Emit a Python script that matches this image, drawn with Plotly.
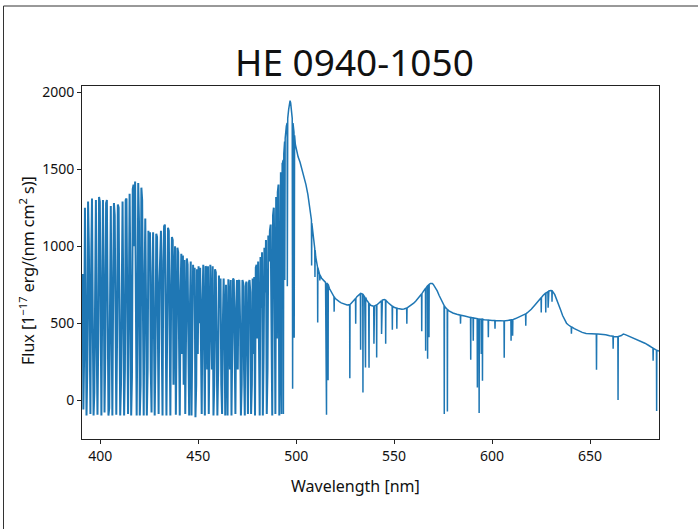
import numpy as np
import plotly.graph_objects as go

# ---------------- data ----------------
# Lyman-alpha forest part: regular 0.4 nm sampling from 391.0 nm
FOREST_START = 391.0
FOREST_STEP = 0.4
forest_flux = [
    820, -60, 300, 1250, 600, -100, 200, 1290, 1000, 150,
    -90, 900, 1310, 500, -100, 50, 1100, 1300, 350, -95,
    400, 1320, 1290, 100, -100, 600, 1300, 800, -80, 300,
    1280, 1300, 250, -100, -50, 900, 1260, 500, -100, 700,
    1280, 1200, 150, -95, 400, 1270, 1250, 300, -100, 100,
    1000, 1290, 600, -100, 200, 1300, 1310, 400, -90, 600,
    1340, 800, -100, 150, 1370, 1400, 1000, 1420, 300, -100,
    500, 1410, 1150, -100, 100, 1380, 1300, 400, -100, 700,
    1180, 600, -100, 200, 1100, 950, 1090, 200, -80, 800,
    1090, 500, -100, 300, 1080, 1060, 100, -90, 750, 1070,
    1100, 400, -100, 900, 1130, 1140, 300, -100, 500, 1120,
    1100, 200, -100, 700, 1060, 1040, 100, 800, 1000, -95,
    400, 990, 960, 200, -100, 700, 950, 300, 940, 100,
    910, -90, 300, 920, 880, 200, -100, 600, 900, -100,
    400, 880, 700, 860, -110, 100, 850, 300, 870, 500,
    860, 100, -90, 650, 880, 400, -100, 870, 860, 200,
    870, -90, 300, 880, 600, 200, 870, -100, 100, 850,
    830, 450, -100, 200, 810, 600, 790, 100, -90, 500,
    790, 500, -100, 750, 300, -100, 785, 650, 200, 780,
    -100, 400, 790, 780, 100, -90, 600, 780, 200, 770,
    780, 500, -100, 100, 780, 760, 200, -100, 740, 770,
    300, -90, 760, 780, 700, -90, 100, 790, 300, 800,
    -100, 860, 880, 400, 900, 100, -100, 930, 600, 960,
    -100, 300, 990, 700, 1040, -90, 200, 1070, 900, 1100,
    1140, 500, -100, 1200, 1250, 800, -90, 1320, 400, 1350,
    1400, -100, 300, 1480, -90, 1540,
]

# Red part (Ly-alpha emission and beyond): explicit samples
red_wl = [
    493.4, 493.5, 493.7, 494.1, 494.2, 494.4, 495.0, 495.4, 495.5, 495.7,
    496.2, 496.6, 496.9, 497.2, 497.6, 498.0, 498.2, 498.4, 498.9, 499.0,
    499.2, 499.6, 500.0, 500.5, 501.0, 502.0, 503.0, 504.0, 505.0, 506.0,
    507.0, 507.8, 507.9, 508.0, 509.0, 509.5, 509.6, 509.7, 510.0, 510.9,
    511.0, 511.1, 512.0, 512.1, 512.2, 513.0, 514.0, 515.0, 515.5, 515.6,
    516.2, 516.3, 516.4, 517.0, 518.0, 519.3, 519.4, 519.5, 520.0, 521.0,
    522.0, 523.0, 524.0, 525.0, 526.0, 527.3, 527.4, 527.5, 528.0, 529.0,
    530.3, 530.4, 530.5, 531.0, 532.0, 532.8, 532.9, 533.0, 533.5, 534.0,
    534.1, 534.2, 535.0, 535.4, 535.5, 536.0, 537.0, 537.2, 537.3, 538.0,
    539.0, 539.6, 539.7, 539.8, 540.0, 541.0, 541.1, 541.2, 542.0, 543.0,
    543.5, 543.6, 543.7, 544.0, 545.0, 545.6, 545.7, 545.8, 546.0, 547.0,
    548.0, 549.0, 549.1, 549.2, 550.0, 551.0, 551.3, 551.4, 551.5, 552.0,
    553.0, 554.0, 555.0, 556.0, 556.4, 556.5, 556.6, 557.0, 558.0, 559.0,
    560.0, 561.0, 562.0, 563.0, 564.0, 564.1, 564.2, 565.0, 566.0, 566.1,
    566.2, 567.0, 567.1, 567.2, 567.7, 567.8, 567.9, 568.5, 569.0, 569.5,
    570.0, 571.0, 572.0, 573.0, 574.0, 575.0, 575.5, 575.6, 575.7, 576.0,
    577.1, 577.2, 577.3, 578.0, 579.0, 580.0, 582.0, 583.8, 583.9, 584.0,
    586.0, 588.0, 589.0, 589.1, 589.2, 590.3, 590.4, 590.5, 592.0, 592.4,
    592.5, 592.6, 593.3, 593.4, 593.5, 594.4, 594.5, 594.6, 595.0, 595.1,
    595.2, 596.0, 598.0, 598.1, 598.2, 600.0, 601.4, 601.5, 601.6, 604.0,
    606.1, 606.2, 606.3, 608.0, 609.6, 609.7, 609.8, 610.4, 610.5, 610.6,
    612.0, 614.0, 616.0, 617.1, 617.2, 617.3, 618.0, 620.0, 622.0, 624.0,
    625.0, 625.1, 625.2, 626.0, 627.3, 627.4, 627.5, 628.0, 628.5, 628.6,
    628.7, 629.0, 630.0, 630.5, 630.6, 630.7, 631.0, 632.0, 633.0, 634.0,
    635.0, 636.0, 637.0, 638.0, 639.0, 640.0, 640.4, 640.5, 640.6, 642.0,
    644.0, 646.0, 648.0, 650.0, 652.0, 653.2, 653.3, 653.4, 654.0, 656.0,
    658.0, 660.0, 661.7, 661.8, 661.9, 662.0, 664.2, 664.3, 664.4, 666.0,
    667.0, 668.0, 670.0, 672.0, 674.0, 676.0, 678.0, 680.0, 682.1, 682.2,
    682.3, 683.9, 684.0, 684.1, 685.0, 685.5,
]
red_flux = [
    1560, -90, 1600, 1680, 780, 1700, 1780, 1800, 740, 1830,
    1890, 1930, 1945, 1930, 1880, 1830, 74, 1800, 1740, 405,
    1720, 1660, 1630, 1600, 1580, 1545, 1500, 1455, 1400, 1335,
    1250, 1170, 875, 1150, 1040, 985, 800, 975, 930, 865,
    505, 860, 815, 777, 812, 792, 778, 765, -95, 760,
    752, 130, 750, 725, 698, 672, 575, 670, 660, 648,
    640, 632, 626, 621, 618, 620, 143, 621, 628, 640,
    660, 496, 662, 672, 686, 692, 327, 693, 692, 688,
    50, 686, 670, 212, 666, 650, 632, 210, 628, 616,
    610, 610, 366, 611, 612, 618, 277, 619, 628, 640,
    645, 430, 646, 650, 653, 650, 366, 648, 646, 633,
    621, 611, 458, 610, 603, 598, 597, 464, 597, 595,
    592, 590, 592, 596, 598, 496, 598, 602, 610, 620,
    630, 642, 656, 672, 690, 447, 692, 708, 725, 321,
    727, 742, 269, 744, 750, 408, 752, 758, 760, 758,
    752, 735, 710, 680, 650, 625, 615, -90, 612, 605,
    590, -74, 588, 580, 572, 566, 558, 552, 497, 552,
    546, 540, 537, 262, 537, 534, 386, 534, 530, 529,
    82, 529, 528, -83, 527, 526, 300, 526, 525, 126,
    525, 522, 520, 408, 520, 518, 517, 464, 517, 516,
    515, 275, 515, 518, 521, 386, 521, 523, 418, 523,
    530, 540, 552, 560, 484, 561, 568, 590, 620, 650,
    665, 570, 666, 680, 695, 570, 696, 700, 705, 600,
    706, 710, 712, 711, 640, 710, 705, 685, 655, 620,
    585, 550, 520, 500, 488, 478, 476, 431, 476, 465,
    450, 440, 433, 430, 430, 430, 197, 430, 430, 428,
    425, 418, 415, 334, 415, 414, 412, 2, 413, 420,
    430, 426, 415, 405, 395, 385, 370, 355, 338, 256,
    337, 325, -70, 324, 320, 318,
]

x_tick_vals = [400, 450, 500, 550, 600, 650]
y_tick_vals = [0, 500, 1000, 1500, 2000]
x_range = [390.7, 685.2]
y_range = [-252, 2040]

title_text = "HE 0940-1050"
x_label = "Wavelength [nm]"
y_label = "Flux [1<sup>\u221217</sup> erg/(nm cm<sup>2</sup> s)]"

# ---------------- figure ----------------
forest_wl = FOREST_START + FOREST_STEP * np.arange(len(forest_flux))
forest_f = np.array(forest_flux, dtype=float)
# red trace starts from the last forest sample so the curve is continuous
red_x = np.concatenate([forest_wl[-1:], np.array(red_wl)])
red_y = np.concatenate([forest_f[-1:], np.array(red_flux, dtype=float)])

W, H = 698, 529
ML, MR, MT, MB = 82, 39, 86, 90
PW, PH = W - ML - MR, H - MT - MB

def px_x(px):
    return (px - ML) / PW

def px_y(py):
    return 1 - (py - MT) / PH

FONT = "Noto Sans"
BLUE = "#1f77b4"

fig = go.Figure()
fig.add_trace(go.Scatter(
    x=forest_wl, y=forest_f, mode="lines",
    line=dict(color=BLUE, width=2.0),
    showlegend=False, hoverinfo="skip",
))
fig.add_trace(go.Scatter(
    x=red_x, y=red_y, mode="lines",
    line=dict(color=BLUE, width=1.5),
    showlegend=False, hoverinfo="skip",
))

axis_common = dict(
    showgrid=False, zeroline=False, showline=True, mirror=True,
    linecolor="#222222", linewidth=1, ticks="outside", ticklen=4,
    tickwidth=1, tickcolor="#222222",
    tickfont=dict(family=FONT, size=14, color="#111111"),
)

fig.update_layout(
    width=W, height=H,
    margin=dict(l=ML, r=MR, t=MT, b=MB, pad=0),
    paper_bgcolor="white", plot_bgcolor="white",
    xaxis=dict(range=x_range, tickvals=x_tick_vals, **axis_common),
    yaxis=dict(range=y_range, tickvals=y_tick_vals, **axis_common),
    font=dict(family=FONT, color="#111111"),
)

fig.add_annotation(text=title_text, xref="paper", yref="paper",
                   x=px_x(354), y=px_y(62), showarrow=False,
                   xanchor="center", yanchor="middle",
                   font=dict(family=FONT, size=37, color="#111111"))
fig.add_annotation(text=x_label, xref="paper", yref="paper",
                   x=px_x(355), y=px_y(486), showarrow=False,
                   xanchor="center", yanchor="middle",
                   font=dict(family=FONT, size=16, color="#111111"))
fig.add_annotation(text=y_label, xref="paper", yref="paper",
                   x=px_x(27), y=px_y(271), showarrow=False, textangle=-90,
                   xanchor="center", yanchor="middle",
                   font=dict(family=FONT, size=16, color="#111111"))

# figure frame (top and left edges visible in the reference)
fig.add_shape(type="rect", xref="paper", yref="paper",
              x0=px_x(3.5), x1=px_x(W + 20), y0=px_y(H + 20), y1=px_y(6),
              line=dict(color="#333333", width=1), fillcolor="rgba(0,0,0,0)",
              layer="below")

fig.write_html("out.html")
